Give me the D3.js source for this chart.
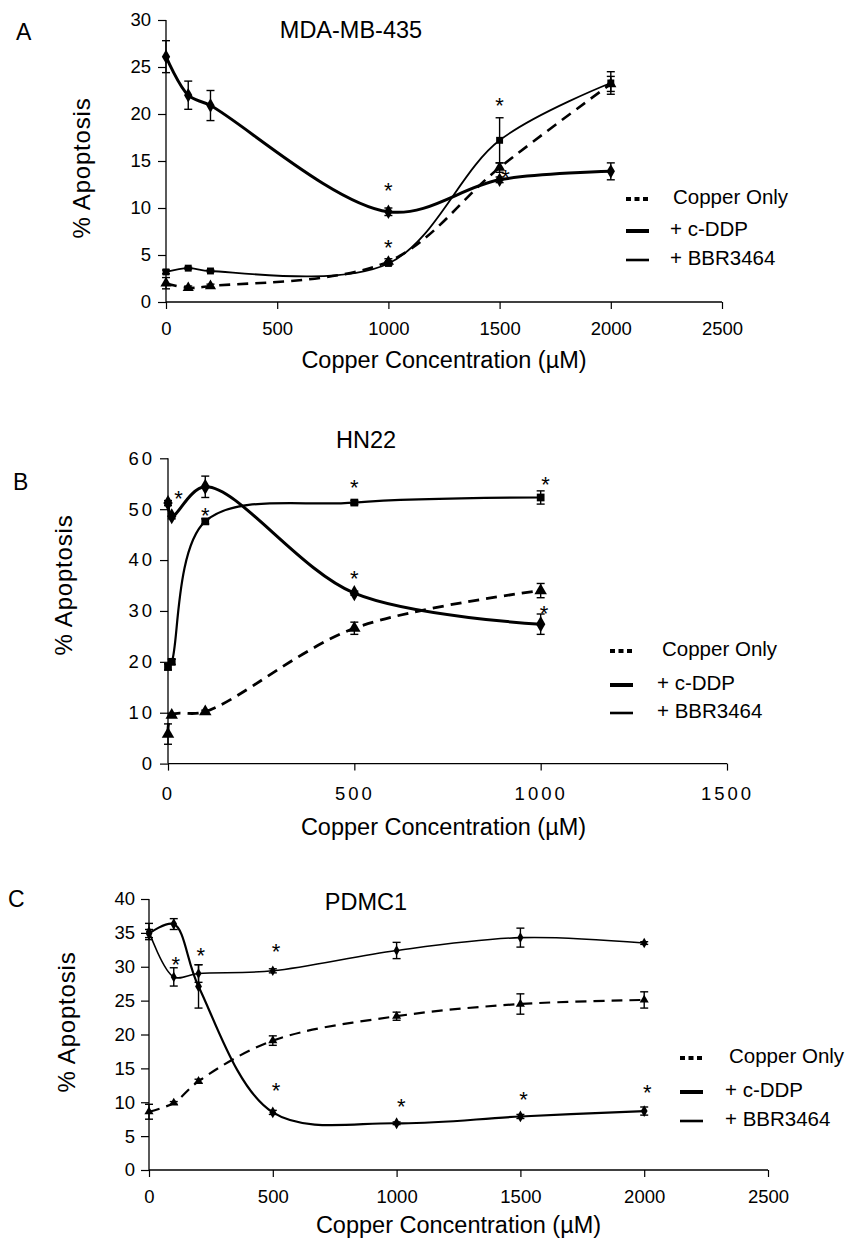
<!DOCTYPE html>
<html>
<head>
<meta charset="utf-8">
<script src="https://cdn.jsdelivr.net/npm/d3@7"></script>
<style>
  body { margin: 0; background: #fff; }
  svg { display: block; }
  text { font-family: "Liberation Sans", Arial, sans-serif; fill: #000; }
</style>
</head>
<body>
<svg id="chart" width="850" height="1243"></svg>
<script>
// ---------- DATA ----------
const seriesNames = ["Copper Only", "+ c-DDP", "+ BBR3464"];
const xLabel = "Copper Concentration (\u00B5M)";
const yLabel = "% Apoptosis";

// Panel A: MDA-MB-435
const aTitle = "MDA-MB-435";
const aX = [0, 100, 200, 1000, 1500, 2000];
const aCopper = [2.0, 1.5, 1.7, 4.3, 14.3, 23.2];
const aCopperErr = [0.6, 0.2, 0.2, 0.3, 0.5, 0.8];
const aCddp = [26.1, 22.0, 20.9, 9.6, 13.0, 13.9];
const aCddpErr = [1.7, 1.5, 1.6, 0.4, 0.3, 0.9];
const aBbr = [3.2, 3.6, 3.3, 4.1, 17.2, 23.3];
const aBbrErr = [0.2, 0.1, 0.1, 0.2, 2.4, 1.2];
const aStars = [[1000, 12.4], [1000, 6.4], [1500, 21.5], [1527, 13.8]];
const aXTicks = [0, 500, 1000, 1500, 2000, 2500];
const aYTicks = [0, 5, 10, 15, 20, 25, 30];

// Panel B: HN22
const bTitle = "HN22";
const bX = [0, 10, 100, 500, 1000];
const bCopper = [5.8, 9.5, 10.2, 26.6, 34.0];
const bCopperErr = [2.0, 0.4, 0.3, 1.2, 1.4];
const bCddp = [51.2, 48.6, 54.4, 33.5, 27.4];
const bCddpErr = [0.5, 0.5, 2.1, 0.4, 2.0];
const bBbr = [19.0, 20.0, 47.6, 51.3, 52.3];
const bBbrErr = [0.6, 0.5, 0.5, 0.4, 1.3];
const bStars = [[28, 53.2], [100, 49.8], [500, 55.4], [500, 37.4], [1013, 56.0], [1009, 30.6]];
const bXTicks = [0, 500, 1000, 1500];
const bYTicks = [0, 10, 20, 30, 40, 50, 60];

// Panel C: PDMC1
const cTitle = "PDMC1";
const cX = [0, 100, 200, 500, 1000, 1500, 2000];
const cCopper = [8.6, 9.9, 13.1, 19.1, 22.7, 24.5, 25.1];
const cCopperErr = [1.1, 0.2, 0.3, 0.7, 0.6, 1.5, 1.2];
const cCddp = [34.9, 36.3, 27.1, 8.5, 6.9, 7.9, 8.7];
const cCddpErr = [0.6, 0.8, 3.2, 0.3, 0.2, 0.3, 0.6];
const cBbr = [35.2, 28.5, 29.0, 29.4, 32.4, 34.3, 33.5];
const cBbrErr = [1.2, 1.35, 1.3, 0.3, 1.2, 1.4, 0.2];
const cStars = [[108, 31.2], [209, 32.5], [513, 33.0], [513, 12.5], [1019, 10.2], [1513, 11.2], [2012, 12.2]];
const cXTicks = [0, 500, 1000, 1500, 2000, 2500];
const cYTicks = [0, 5, 10, 15, 20, 25, 30, 35, 40];

// ---------- DRAWING ----------
const svg = d3.select("#chart");

function drawPanel(p) {
  const g = svg.append("g");
  const x = d3.scaleLinear().domain([0, p.xMax]).range([p.left, p.right]);
  const y = d3.scaleLinear().domain([0, p.yMax]).range([p.bottom, p.top]);

  // axes
  const xAxis = d3.axisBottom(x).tickValues(p.xTicks).tickSize(7).tickFormat(d3.format("d"));
  const yAxis = d3.axisLeft(y).tickValues(p.yTicks).tickSize(8).tickFormat(d3.format("d"));
  const gx = g.append("g").attr("transform", `translate(0,${p.bottom})`).call(xAxis);
  const gy = g.append("g").attr("transform", `translate(${p.left},0)`).call(yAxis);
  [gx, gy].forEach(a => {
    a.select(".domain").attr("stroke", "#000").attr("stroke-width", 1.3);
    a.selectAll(".tick line").attr("stroke", "#000").attr("stroke-width", 1.2);
    a.selectAll(".tick text").style("font-size", "18.5px").style("letter-spacing", p.tickSpacing + "px")
      .style("font-family", '"Liberation Sans", Arial, sans-serif');
  });
  gx.select(".domain").attr("d", `M${p.left},0H${p.right}`);
  gy.select(".domain").attr("d", `M0,${p.bottom}V${p.top}`);
  gx.selectAll(".tick text").attr("y", 0).attr("dy", 0).attr("transform", `translate(0,${p.xTickDy})`)
    .attr("dominant-baseline", "middle");
  gy.selectAll(".tick text").attr("x", -p.yTickGap);

  // titles
  g.append("text").attr("x", p.titleX).attr("y", p.titleY).attr("text-anchor", "middle")
    .style("font-size", "23.5px").text(p.title);
  g.append("text").attr("x", p.letterX).attr("y", p.letterY).style("font-size", "23px").text(p.letter);
  g.append("text").attr("x", (p.left + p.right) / 2 + p.xLabelShift).attr("y", p.xLabelY)
    .attr("text-anchor", "middle").attr("dominant-baseline", "middle")
    .style("font-size", "23.5px").text(xLabel);
  g.append("text").attr("transform", `translate(${p.yLabelX},${p.yLabelY}) rotate(-90)`)
    .attr("text-anchor", "middle").attr("dominant-baseline", "middle")
    .style("font-size", "24px").style("letter-spacing", "0.8px").text(yLabel);

  // series
  const styles = [
    { vals: p.copper, err: p.copperErr, width: p.wDash, dash: "11,7", sym: d3.symbolTriangle, size: p.symSize * 0.9 },
    { vals: p.cddp, err: p.cddpErr, width: p.wThick, dash: null, sym: d3.symbolDiamond, size: p.symSize },
    { vals: p.bbr, err: p.bbrErr, width: p.wThin, dash: null, sym: p.bbrSym, size: p.symSize * 0.8 }
  ];
  const line = d3.line().x(d => x(d[0])).y(d => y(d[1])).curve(d3.curveCatmullRom.alpha(0.5));
  styles.forEach(s => {
    const pts = p.xs.map((xv, i) => [xv, s.vals[i], s.err[i]]);
    g.append("path").datum(pts).attr("d", line).attr("fill", "none").attr("stroke", "#000")
      .attr("stroke-width", s.width).attr("stroke-dasharray", s.dash);
    const eb = g.append("g").selectAll("g").data(pts).join("g");
    eb.append("line").attr("x1", d => x(d[0])).attr("x2", d => x(d[0]))
      .attr("y1", d => y(d[1] - d[2])).attr("y2", d => y(d[1] + d[2]))
      .attr("stroke", "#000").attr("stroke-width", 1.4);
    [-1, 1].forEach(sg => {
      eb.append("line").attr("x1", d => x(d[0]) - 4).attr("x2", d => x(d[0]) + 4)
        .attr("y1", d => y(d[1] + sg * d[2])).attr("y2", d => y(d[1] + sg * d[2]))
        .attr("stroke", "#000").attr("stroke-width", 1.4);
    });
    g.append("g").selectAll("path").data(pts).join("path")
      .attr("transform", d => `translate(${x(d[0])},${y(d[1])})`)
      .attr("d", d3.symbol().type(s.sym).size(s.size)).attr("fill", "#000");
  });

  // significance stars
  g.append("g").selectAll("text").data(p.stars).join("text")
    .attr("x", d => x(d[0])).attr("y", d => y(d[1]) + 13)
    .attr("text-anchor", "middle").style("font-size", "22px").text("*");

  // legend
  const lg = g.append("g").attr("transform", `translate(${p.legX},${p.legY})`);
  const rowY = [0, p.legRow1, p.legRow2];
  lg.append("line").attr("x1", 0).attr("x2", 22).attr("y1", rowY[0]).attr("y2", rowY[0])
    .attr("stroke", "#000").attr("stroke-width", 4).attr("stroke-dasharray", "5,3.5");
  lg.append("line").attr("x1", 0).attr("x2", 23).attr("y1", rowY[1]).attr("y2", rowY[1])
    .attr("stroke", "#000").attr("stroke-width", 4);
  lg.append("line").attr("x1", 0).attr("x2", 23).attr("y1", rowY[2]).attr("y2", rowY[2])
    .attr("stroke", "#000").attr("stroke-width", 2.6);
  seriesNames.forEach((n, i) => {
    lg.append("text").attr("x", i === 0 ? p.legTextX0 : p.legTextX).attr("y", rowY[i])
      .attr("dominant-baseline", "middle").style("font-size", "20.5px").text(n);
  });
}

drawPanel({
  letter: "A", letterX: 16, letterY: 40, title: aTitle, titleX: 351, titleY: 38,
  left: 166, right: 722, top: 20, bottom: 302, xMax: 2500, yMax: 30,
  xTicks: aXTicks, yTicks: aYTicks, tickSpacing: 0, xTickDy: 28, yTickGap: 15,
  xLabelShift: 0, xLabelY: 362, yLabelX: 84, yLabelY: 168,
  xs: aX, copper: aCopper, copperErr: aCopperErr, cddp: aCddp, cddpErr: aCddpErr, bbr: aBbr, bbrErr: aBbrErr,
  bbrSym: d3.symbolSquare, symSize: 60, wThick: 3, wThin: 1.8, wDash: 2.6,
  stars: aStars, legX: 626, legY: 199, legRow1: 32, legRow2: 61, legTextX0: 47, legTextX: 44
});

drawPanel({
  letter: "B", letterX: 13, letterY: 490, title: bTitle, titleX: 366, titleY: 448,
  left: 168, right: 727, top: 458.3, bottom: 763.6, xMax: 1500, yMax: 60,
  xTicks: bXTicks, yTicks: bYTicks, tickSpacing: 3, xTickDy: 32, yTickGap: 13,
  xLabelShift: -4, xLabelY: 829, yLabelX: 66, yLabelY: 585,
  xs: bX, copper: bCopper, copperErr: bCopperErr, cddp: bCddp, cddpErr: bCddpErr, bbr: bBbr, bbrErr: bBbrErr,
  bbrSym: d3.symbolSquare, symSize: 75, wThick: 3, wThin: 2.2, wDash: 2.8,
  stars: bStars, legX: 610, legY: 651, legRow1: 34, legRow2: 62, legTextX0: 52, legTextX: 47
});

drawPanel({
  letter: "C", letterX: 8, letterY: 907, title: cTitle, titleX: 366, titleY: 910,
  left: 149, right: 768, top: 899, bottom: 1170, xMax: 2500, yMax: 40,
  xTicks: cXTicks, yTicks: cYTicks, tickSpacing: 0, xTickDy: 28, yTickGap: 14,
  xLabelShift: 0, xLabelY: 1227, yLabelX: 69, yLabelY: 1022,
  xs: cX, copper: cCopper, copperErr: cCopperErr, cddp: cCddp, cddpErr: cCddpErr, bbr: cBbr, bbrErr: cBbrErr,
  bbrSym: d3.symbolDiamond, symSize: 40, wThick: 2.2, wThin: 1.6, wDash: 2.2,
  stars: cStars, legX: 680, legY: 1058, legRow1: 34, legRow2: 63, legTextX0: 49, legTextX: 45
});
</script>
</body>
</html>
